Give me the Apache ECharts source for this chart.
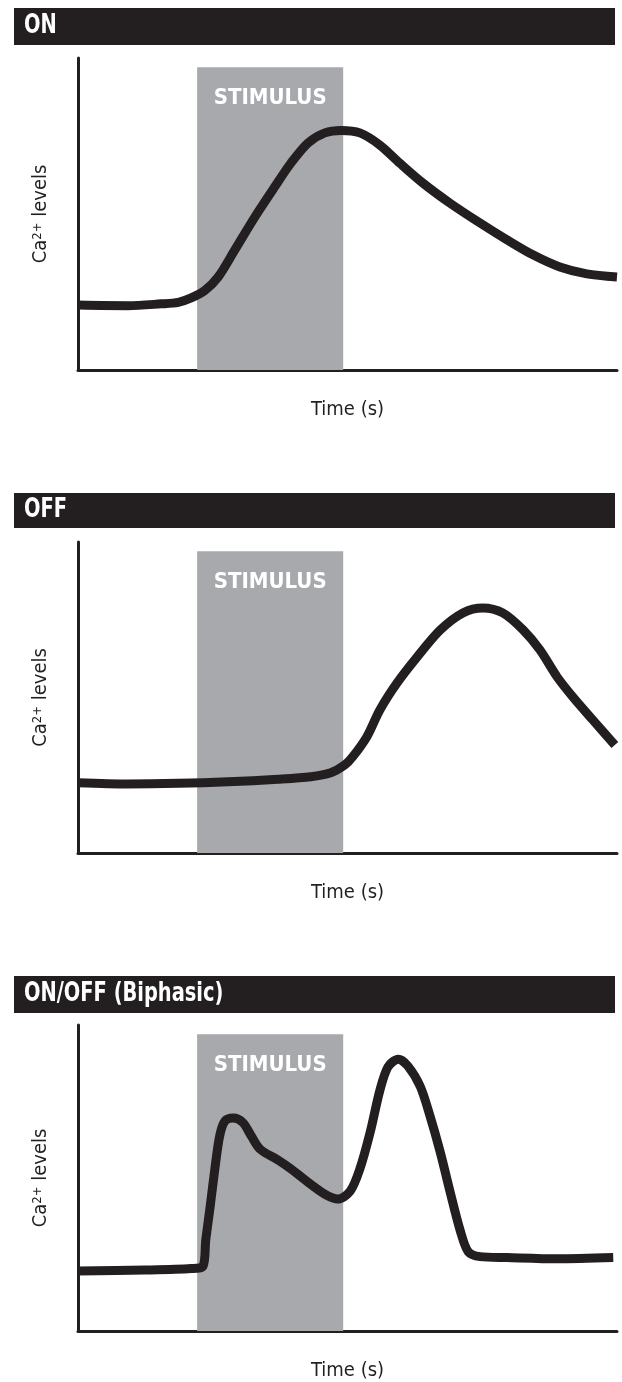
<!DOCTYPE html>
<html><head><meta charset="utf-8">
<script src="https://cdn.jsdelivr.net/npm/echarts@6/dist/echarts.min.js"></script>
<style>html,body{margin:0;padding:0;background:#fff}#c{width:622px;height:1382px}</style>
</head><body><div id="c"></div>
<script>
const panelTitles = ['ON', 'OFF', 'ON/OFF (Biphasic)'];
const stimulusStart = 22.1;
const stimulusEnd = 49.2;
const stimulusTop = 97;
const onCurve = [[0,20.8],[9.3,20.6],[15.4,21.2],[18.6,21.7],[21,23.1],[23.6,25.6],[26,29.8],[29.1,38.5],[32.8,49],[36.5,58.7],[39.5,66.3],[42.7,72.8],[45.8,76],[48.8,76.8],[52.3,76],[56,72.1],[59.7,66.3],[64,59.9],[69,53.5],[74.6,47.1],[79.6,41.7],[84.4,36.9],[89.4,33],[94.4,30.8],[100,29.8]];
const offCurve = [[0,22.6],[9.3,22.2],[18.6,22.4],[27.8,22.9],[37.1,23.7],[43.2,24.5],[46.9,25.8],[49.5,28.3],[51,31],[53.6,37.4],[56,46],[59.2,54.7],[62.9,63],[67.2,71.7],[71.4,77.2],[75.1,78.8],[78.8,77.2],[82.6,71.7],[85.7,65.3],[88.9,56.6],[91.8,50.2],[95.5,42.8],[99.6,34.7]];
const biphasicCurve = [[0,19.6],[12.4,19.9],[21,20.4],[23.2,21.2],[23.7,29.7],[24.5,40.4],[25.4,53.1],[26.3,63.9],[27.3,68.7],[28.8,69.6],[30.6,68.1],[32.1,63.9],[33.8,59.4],[37.1,55.9],[39.5,53],[43.2,47.9],[45.8,44.7],[48.2,43.1],[50.5,45.7],[52.3,53],[54.2,64.9],[56,78.6],[57.5,86.3],[59.4,88.8],[61.2,86.6],[63.5,79.9],[65.3,70.3],[67.2,58.5],[69,45.7],[70.9,32.9],[72.4,25.9],[74.6,24.3],[79.6,24],[88.9,23.6],[99.3,24]];
const curves = [onCurve, offCurve, biphasicCurve];
const xAxisName = 'Time (s)';
const yAxisName = 'Ca{s|2+} levels';

const INK = '#231f20';
const FONT = "'Liberation Sans Narrow', 'DejaVu Sans Condensed', 'Roboto', sans-serif";
const gridTops = [58, 542, 1025];
const gridHeights = [312, 311, 313];
const barTops = [8, 493, 976];
const barHeights = [37, 35, 37];

const chart = echarts.init(document.getElementById('c'), null, {renderer: 'canvas'});
const grid = [], xAxis = [], yAxis = [], series = [], graphic = [];
for (let i = 0; i < 3; i++) {
  grid.push({left: 78, right: 5, top: gridTops[i], height: gridHeights[i]});
  xAxis.push({type: 'value', gridIndex: i, min: 0, max: 100,
    name: xAxisName, nameLocation: 'middle', nameGap: 30,
    nameTextStyle: {fontFamily: FONT, fontSize: 20, color: INK},
    axisLine: {show: true, lineStyle: {color: INK, width: 3}},
    axisTick: {show: false}, axisLabel: {show: false}, splitLine: {show: false}});
  yAxis.push({type: 'value', gridIndex: i, min: 0, max: 100,
    name: yAxisName, nameLocation: 'middle', nameGap: 27, nameRotate: 90,
    nameTextStyle: {fontFamily: FONT, fontSize: 20, color: INK,
      rich: {s: {fontFamily: FONT, fontSize: 13, color: INK, verticalAlign: 'top', lineHeight: 20, padding: [0,0,8,0]}}},
    axisLine: {show: true, lineStyle: {color: INK, width: 3}},
    axisTick: {show: false}, axisLabel: {show: false}, splitLine: {show: false}});
  series.push({type: 'line', xAxisIndex: i, yAxisIndex: i, data: curves[i],
    smooth: 0.3, showSymbol: false, symbol: 'none', clip: false, z: 3,
    lineStyle: {color: INK, width: 9, cap: 'butt', join: 'round'},
    markArea: {silent: true, z: 1,
      itemStyle: {color: '#a7a9ac'},
      label: {show: true, position: 'insideTop', distance: 20, color: '#fff',
        fontFamily: FONT, fontWeight: 'bold', fontSize: 22},
      data: [[{name: 'STIMULUS', xAxis: stimulusStart, yAxis: 0}, {xAxis: stimulusEnd, yAxis: stimulusTop}]]}});
  graphic.push({type: 'rect', shape: {x: 14, y: barTops[i], width: 601, height: barHeights[i]}, style: {fill: INK}});
  graphic.push({type: 'text', x: 24, y: barTops[i] + barHeights[i] / 2, scaleX: 0.83,
    style: {text: panelTitles[i], fill: '#fff', font: "bold 26px " + FONT, verticalAlign: 'middle'}});
}
chart.setOption({animation: false, backgroundColor: '#fff', grid, xAxis, yAxis, series, graphic});
</script></body></html>
